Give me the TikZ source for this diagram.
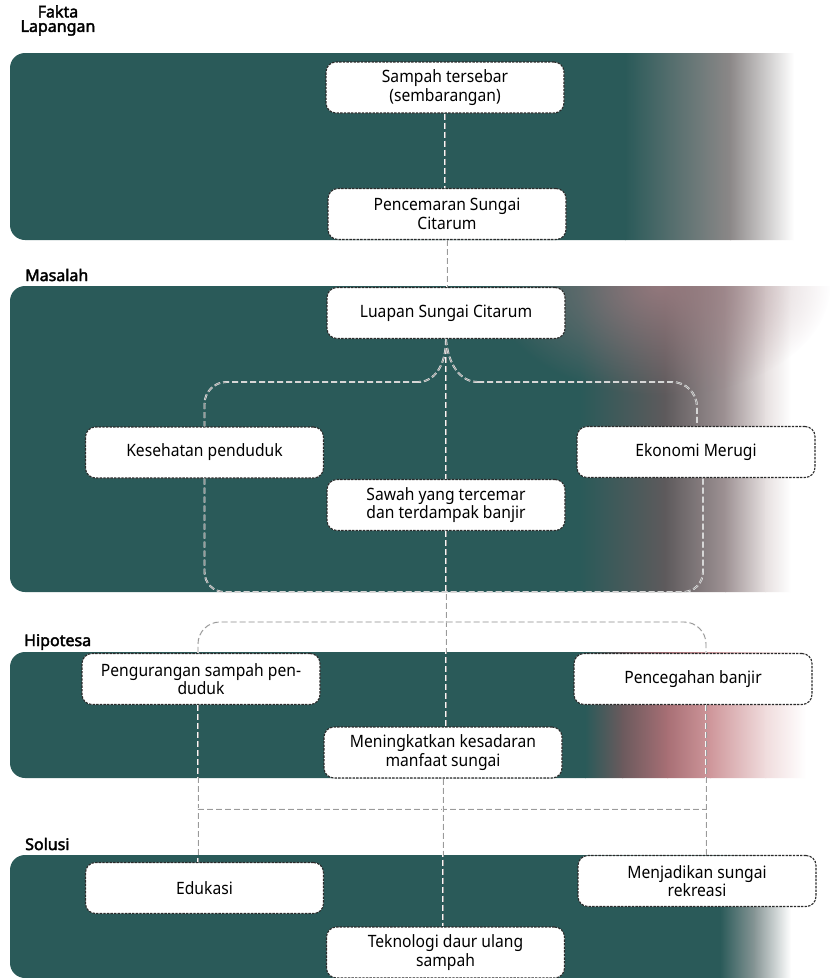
\documentclass[tikz,border=0pt]{standalone}
\usepackage{fontspec}
\setmainfont{Noto Sans}[FakeStretch=0.92]
\newfontfamily\lblfont{Noto Sans}[FakeBold=2.4]
\usetikzlibrary{fadings,calc}
\definecolor{bandteal}{HTML}{2A5A59}
\definecolor{boxline}{HTML}{2A2A2A}
\definecolor{linkgray}{HTML}{9A9A9A}
\definecolor{fgA}{HTML}{8C8888}
\definecolor{fgB1}{HTML}{5E5A5C}
\definecolor{fgB2}{HTML}{9E9294}
\definecolor{fgB3}{HTML}{E6E0E0}
\definecolor{mauve}{HTML}{A07F84}
\definecolor{fgC1}{HTML}{6B5A5D}
\definecolor{fgC2}{HTML}{A86F75}
\definecolor{fgC3}{HTML}{CF979B}
\definecolor{fgC4}{HTML}{F0DCDD}
\definecolor{fgD}{HTML}{8A9898}
\tikzfading[name=softblob, inner color=transparent!0, outer color=transparent!100]
\begin{document}
\begin{tikzpicture}[x=1pt,y=-1pt,
  box/.style={draw=boxline, fill=white, rounded corners=10pt, line width=1.1pt,
    dash pattern=on 2.4pt off 1.2pt, minimum width=238pt, minimum height=51pt,
    align=center, font=\fontsize{17}{18.5}\selectfont, inner sep=2pt},
  link/.style={draw=white!94!gray, double=linkgray, double distance=0.9pt,
    line width=0.5pt, dash pattern=on 6pt off 3pt},
  lbl/.style={font=\lblfont\fontsize{16}{14.5}\selectfont, inner sep=0pt},
]
\useasboundingbox (0,0) rectangle (830,978);
\fill[white] (0,0) rectangle (830,978);

% ---- Band 1: Fakta Lapangan
\begin{scope}
  \clip[rounded corners=15pt] (10,53) rectangle (880,240);
  \fill[bandteal] (0,40) rectangle (626,250);
  \shade[left color=bandteal, right color=fgA] (625,40) rectangle (731,250);
  \shade[left color=fgA, right color=white] (730,40) rectangle (794,250);
\end{scope}

% ---- Band 2: Masalah
\begin{scope}
  \clip[rounded corners=15pt] (10,286) rectangle (880,592);
  \fill[bandteal] (0,280) rectangle (581,600);
  \shade[left color=bandteal, right color=fgB1] (580,280) rectangle (666,600);
  \shade[left color=fgB1, right color=fgB2] (665,280) rectangle (726,600);
  \shade[left color=fgB2, right color=fgB3] (725,280) rectangle (766,600);
  \shade[left color=fgB3, right color=white] (765,280) rectangle (791,600);
  \fill[mauve, path fading=softblob, fill opacity=0.8] (660,286) ellipse [x radius=170, y radius=110];
\end{scope}

% ---- Band 3: Hipotesa
\begin{scope}
  \clip[rounded corners=15pt] (10,652) rectangle (880,778);
  \fill[bandteal] (0,640) rectangle (586,790);
  \shade[left color=bandteal, right color=fgC1] (585,640) rectangle (623,790);
  \shade[left color=fgC1, right color=fgC2] (622,640) rectangle (668,790);
  \shade[left color=fgC2, right color=fgC3] (667,640) rectangle (711,790);
  \shade[left color=fgC3, right color=fgC4] (710,640) rectangle (766,790);
  \shade[left color=fgC4, right color=white] (765,640) rectangle (806,790);
\end{scope}

% ---- Band 4: Solusi
\begin{scope}
  \clip[rounded corners=15pt] (10,855) rectangle (880,978);
  \fill[bandteal] (0,850) rectangle (721,990);
  \shade[left color=bandteal, right color=fgD] (720,850) rectangle (756,990);
  \shade[left color=fgD, right color=white] (755,850) rectangle (791,990);
\end{scope}

% ---- Section labels
\node[lbl, anchor=north, align=center] (fakta) at (58,5) {Fakta\\Lapangan};
\node[lbl, anchor=base west] (masalah) at (25,281) {Masalah};
\node[lbl, anchor=base west] (hipotesa) at (24,646) {Hipotesa};
\node[lbl, anchor=base west] (solusi) at (25,850) {Solusi};

% ---- Boxes
\node[box] (sampah) at (445,87.5) {Sampah tersebar\\(sembarangan)};
\node[box] (pencemaran) at (447,214) {Pencemaran Sungai\\Citarum};
\node[box] (luapan) at (446,313) {Luapan Sungai Citarum};
\node[box] (kesehatan) at (204.5,452.5) {Kesehatan penduduk};
\node[box] (ekonomi) at (696,452) {Ekonomi Merugi};
\node[box] (sawah) at (446,505) {Sawah yang tercemar\\dan terdampak banjir};
\node[box] (pengurangan) at (201,679) {Pengurangan sampah pen-\\duduk};
\node[box] (pencegahan) at (693,679) {Pencegahan banjir};
\node[box] (meningkatkan) at (443,752.5) {Meningkatkan kesadaran\\manfaat sungai};
\node[box] (edukasi) at (204.5,888) {Edukasi};
\node[box] (menjadikan) at (697,881) {Menjadikan sungai\\rekreasi};
\node[box] (teknologi) at (445.5,952.5) {Teknologi daur ulang\\sampah};

% ---- Helper coordinates
\coordinate (bl) at (418,382);
\coordinate (br) at (478,382);
\coordinate (mb) at (446,592);
\coordinate (ht) at (446,622);
\coordinate (hb) at (446,809);
\coordinate (colL) at (198,0);
\coordinate (colR) at (706,0);
\coordinate (ekoT) at (697,0);
\coordinate (ekoB) at (703,0);

% ---- Connectors
\draw[link] (sampah.south) -- (sampah.south |- pencemaran.north);
\draw[link] (pencemaran.south) -- (pencemaran.south |- luapan.north);
\draw[link] (luapan.south) -- (luapan.south |- sawah.north);
\draw[link] (luapan.south) .. controls (446,366) and (434,382) .. (bl);
\draw[link, rounded corners=22pt] (bl) -- (kesehatan.north |- bl) -- (kesehatan.north);
\draw[link] (luapan.south) .. controls (448,364) and (460,382) .. (br);
\draw[link, rounded corners=25pt] (br) -- (ekoT |- br) -- (ekonomi.north -| ekoT);
\draw[link, rounded corners=20pt] (kesehatan.south) -- (kesehatan.south |- mb) -- (ekoB |- mb) -- (ekonomi.south -| ekoB);
\draw[link] (sawah.south) -- (sawah.south |- meningkatkan.north);
\draw[link, rounded corners=22pt] (pengurangan.north -| colL) -- (colL |- ht) -- (colR |- ht) -- (pencegahan.north -| colR);
\draw[link] (pengurangan.south -| colL) -- (edukasi.north -| colL);
\draw[link] (pencegahan.south -| colR) -- (menjadikan.north -| colR);
\draw[link] (colL |- hb) -- (colR |- hb);
\draw[link] (meningkatkan.south) -- (meningkatkan.south |- teknologi.north);
\end{tikzpicture}
\end{document}
